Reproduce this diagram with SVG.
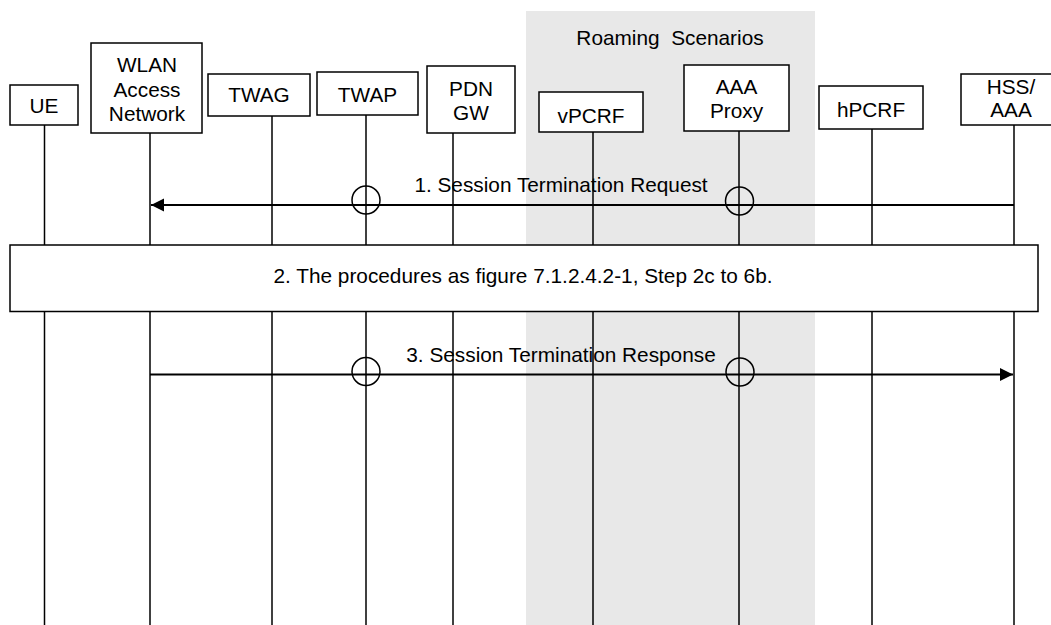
<svg xmlns="http://www.w3.org/2000/svg" width="1051" height="625" viewBox="0 0 1051 625">
  <style>
    .box { fill: #ffffff; stroke: #000000; stroke-width: 1.5; }
    .life { stroke: #000000; stroke-width: 1.5; fill: none; }
    .msg { stroke: #000000; stroke-width: 2; fill: none; }
    .ring { stroke: #000000; stroke-width: 1.5; fill: none; }
    text { font-family: "Liberation Sans", Arial, sans-serif; font-size: 20.8px; fill: #000000; text-anchor: middle; }
  </style>
  <defs>
    <marker id="arrow" markerUnits="userSpaceOnUse" markerWidth="14" markerHeight="14" refX="13" refY="6.5" orient="auto">
      <path d="M0,0 L13,6.5 L0,13 Z" fill="#000000"/>
    </marker>
  </defs>

  <rect width="1051" height="625" fill="#ffffff"/>

  <!-- roaming area -->
  <g id="roaming">
    <rect x="526" y="11" width="289" height="614" fill="#e8e8e8"/>
    <text x="670" y="45" xml:space="preserve">Roaming  Scenarios</text>
  </g>

  <!-- participants with lifelines -->
  <g id="ue">
    <line class="life" x1="44.5" y1="125" x2="44.5" y2="625"/>
    <rect class="box" x="10" y="85" width="68" height="40"/>
    <text x="44" y="113">UE</text>
  </g>
  <g id="wlan">
    <line class="life" x1="150" y1="133" x2="150" y2="625"/>
    <rect class="box" x="91" y="43" width="111" height="90"/>
    <text x="147" y="72">WLAN</text>
    <text x="147" y="96.5">Access</text>
    <text x="147" y="120.5">Network</text>
  </g>
  <g id="twag">
    <line class="life" x1="272" y1="116" x2="272" y2="625"/>
    <rect class="box" x="208" y="74" width="102" height="42"/>
    <text x="259" y="102">TWAG</text>
  </g>
  <g id="twap">
    <line class="life" x1="366" y1="115" x2="366" y2="625"/>
    <rect class="box" x="317" y="72" width="101" height="43"/>
    <text x="367.5" y="102">TWAP</text>
  </g>
  <g id="pdngw">
    <line class="life" x1="453" y1="133" x2="453" y2="625"/>
    <rect class="box" x="427" y="66" width="88" height="67"/>
    <text x="471" y="96">PDN</text>
    <text x="471" y="119.5">GW</text>
  </g>
  <g id="vpcrf">
    <line class="life" x1="593" y1="132" x2="593" y2="625"/>
    <rect class="box" x="539" y="92" width="104" height="40"/>
    <text x="591" y="122.5">vPCRF</text>
  </g>
  <g id="aaaproxy">
    <line class="life" x1="739" y1="131" x2="739" y2="625"/>
    <rect class="box" x="684" y="65" width="105" height="66"/>
    <text x="736.5" y="93.5">AAA</text>
    <text x="736.5" y="117.5">Proxy</text>
  </g>
  <g id="hpcrf">
    <line class="life" x1="872" y1="129" x2="872" y2="625"/>
    <rect class="box" x="819" y="86" width="104" height="43"/>
    <text x="871" y="116.5">hPCRF</text>
  </g>
  <g id="hssaaa">
    <line class="life" x1="1014" y1="125" x2="1014" y2="625"/>
    <rect class="box" x="961" y="74" width="98" height="51"/>
    <text x="1011" y="94">HSS/</text>
    <text x="1011" y="116.5">AAA</text>
  </g>

  <!-- messages -->
  <g id="connectors">
    <line class="msg" x1="1014" y1="205" x2="151" y2="205" marker-end="url(#arrow)"/>
    <circle class="ring" cx="366" cy="200" r="14"/>
    <circle class="ring" cx="739.5" cy="201" r="14"/>
    <text x="561" y="192">1. Session Termination Request</text>

    <line class="msg" x1="150" y1="374.5" x2="1013" y2="374.5" marker-end="url(#arrow)"/>
    <circle class="ring" cx="366" cy="371.5" r="14"/>
    <circle class="ring" cx="740" cy="372" r="14"/>
    <text x="561" y="362">3. Session Termination Response</text>
  </g>

  <!-- step 2 procedure box -->
  <g id="step2">
    <rect class="box" x="10" y="245" width="1028" height="66.5"/>
    <text x="523" y="283">2. The procedures as figure 7.1.2.4.2-1, Step 2c to 6b.</text>
  </g>
</svg>
